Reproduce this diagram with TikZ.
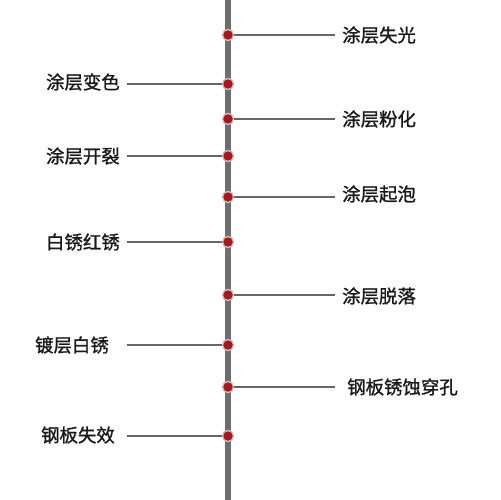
\documentclass[tikz,border=0pt]{standalone}
\usepackage{fontspec}
\newfontfamily\cjk[FakeBold=1.2]{Noto Sans CJK SC}
\usepackage{xcolor}
\usetikzlibrary{positioning}
\definecolor{axisgray}{HTML}{6E6E6E}
\definecolor{linegray}{HTML}{666666}
\definecolor{dotred}{HTML}{B01318}
\tikzset{every picture/.style={font issue=\cjk\fontsize{18.5}{20}},
         font issue/.style={execute at begin picture={#1\selectfont}},
         dot/.style={circle,fill=dotred,draw=gray!45,line width=1.2bp,minimum size=11bp,inner sep=0pt},
         tag/.style={inner xsep=7bp,inner ysep=0pt,text height=17bp,text depth=3bp,text=black!90},
         lead/.style={linegray,line width=1.6bp}
        }
\begin{document}
\begin{tikzpicture}[x=1bp,y=-1bp]
    \useasboundingbox[fill=white] (0,0) rectangle (500,500);
    \draw[axisgray,line width=6bp] (228,0) -- (228,500);

    \node[dot] at (228,35) (d1){};
    \node[dot] at (228,84) (d2){};
    \node[dot] at (228,119) (d3){};
    \node[dot] at (228,156) (d4){};
    \node[dot] at (228,197) (d5){};
    \node[dot] at (228,242) (d6){};
    \node[dot] at (228,295) (d7){};
    \node[dot] at (228,345) (d8){};
    \node[dot] at (228,387) (d9){};
    \node[dot] at (228,436) (d10){};

    % right side
    \node[tag,anchor=west] at (335,35) (shiguang){涂层失光};
    \node[tag,anchor=west] at (335,119) (fenhua){涂层粉化};
    \node[tag,anchor=west] at (335,194) (qipao){涂层起泡};
    \node[tag,anchor=west] at (335,296) (tuoluo){涂层脱落};
    \node[tag,anchor=west,inner xsep=12bp] at (335,387) (chuankong){钢板锈蚀穿孔};

    % left side
    \node[tag,anchor=east] at (127,82) (bianse){涂层变色};
    \node[tag,anchor=east] at (127,156) (kailie){涂层开裂};
    \node[tag,anchor=east] at (127,242) (baixiu){白锈红锈};
    \node[tag,anchor=east,inner xsep=18bp] at (127,345) (duceng){镀层白锈};
    \node[tag,anchor=east,inner xsep=12bp] at (127,435) (shixiao){钢板失效};

    \draw[lead] (d1.center) -- (shiguang.west |- d1);
    \draw[lead] (d3.center) -- (fenhua.west |- d3);
    \draw[lead] (d5.center) -- (qipao.west |- d5);
    \draw[lead] (d7.center) -- (tuoluo.west |- d7);
    \draw[lead] (d9.center) -- (chuankong.west |- d9);
    \draw[lead] (bianse.east |- d2) -- (d2.center);
    \draw[lead] (kailie.east |- d4) -- (d4.center);
    \draw[lead] (baixiu.east |- d6) -- (d6.center);
    \draw[lead] (duceng.east |- d8) -- (d8.center);
    \draw[lead] (shixiao.east |- d10) -- (d10.center);

    % dots again on top of the leads
    \foreach \d in {d1,d2,d3,d4,d5,d6,d7,d8,d9,d10}
        \node[dot] at (\d) {};
\end{tikzpicture}
\end{document}
